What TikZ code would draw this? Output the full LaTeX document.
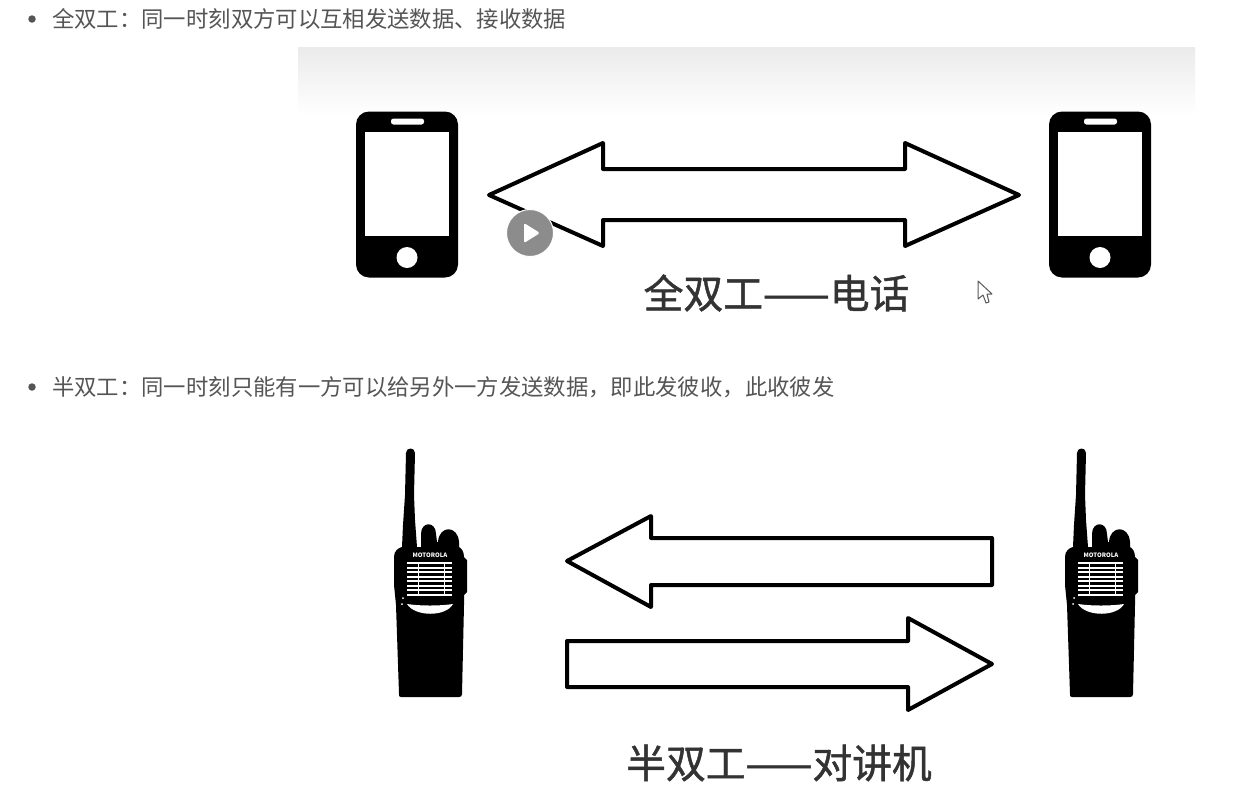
\documentclass[tikz,border=0pt]{standalone}
\usepackage{fontspec}
\setmainfont{Noto Sans CJK SC}
\newfontfamily\capfont[FakeBold=1.2]{Noto Sans CJK SC}
\usetikzlibrary{positioning}
\definecolor{bodytext}{HTML}{555555}
\definecolor{captiontext}{HTML}{333333}
\definecolor{playgray}{HTML}{8C8C8C}
\tikzset{
x=1pt, y=-1pt,
line/.style={font=\fontsize{22.35}{26}\selectfont, text=bodytext, inner sep=0pt, anchor=west}, % the two bullet lines
caption/.style={font=\fontsize{39.8}{46}\capfont, text=captiontext, inner sep=0pt}, % text under the arrows
bullet/.style={circle, fill=bodytext, inner sep=0pt, minimum size=7.5pt},
blockarrow/.style={draw=black, line width=4pt, line join=round, fill=white},
pics/phone/.style={code={
  \fill[black, rounded corners=13pt] (-51,-83) rectangle (51,83);
  \fill[white] (-42,-63) rectangle (42,41);
  \fill[white, rounded corners=2.5pt] (-16,-76) rectangle (17,-70);
  \fill[white] (0,63) circle (10.5);
}},
pics/radio/.style={code={
  % body, knobs and antenna, measured from the antenna foot
  \fill[black] (-4,-92) .. controls (-4,-98) and (5,-98) .. (5,-92)
    -- (4,-50) -- (5,-25) -- (7,2) -- (11,2) -- (11,-11) .. controls (11,-24) and (26,-24) .. (26,-11)
    -- (27,-3) -- (28,-3) .. controls (29,-20) and (48,-20) .. (49,-3) -- (49,2)
    .. controls (51,3) and (54,6) .. (54,12) -- (57,15) -- (57,47) -- (54,50) -- (54,60)
    -- (52,149) .. controls (52,151) and (51,152) .. (49,152)
    -- (-9,152) .. controls (-11,152) and (-11,151) .. (-11,149)
    -- (-14,60) -- (-16,40) -- (-16,12) .. controls (-16,6) and (-12,3) .. (-8,2)
    -- (-7,-20) -- (-5,-50) -- cycle;
  \foreach \y in {18,22.5,27,31.5,36,40.5,45,49.5}
    \fill[white] (-3,\y-1) rectangle (42,\y+1);
  \fill[white] (7.5,17) rectangle (8.5,51);
  \fill[white] (33.5,17) rectangle (34.5,51);
  \fill[white] (-3,59) .. controls (10,61) and (30,61) .. (43,59)
    .. controls (36,72) and (5,72) .. (-3,59) -- cycle;
  \fill[white] (-7,53) circle (1);
  \fill[white] (-8,59) circle (1);
  \node[inner sep=0pt, text=white, font=\fontsize{6}{6}\selectfont\bfseries] at (20,10) {MOTOROLA};
}},
}
\begin{document}
\begin{tikzpicture}
        \useasboundingbox (0,0) rectangle (1243,804);
        \fill[white] (0,0) rectangle (1243,804);

        % top half: telephone
        \shade[top color=black!8, bottom color=white] (298,47) rectangle (1195,115);
        \node[bullet] (dot1) at (32,19) {};
        \node[line] (full) at (52,19) {全双工：同一时刻双方可以互相发送数据、接收数据};
        \pic at (407,194.5) {phone};
        \pic at (1100,194.5) {phone};
        \draw[blockarrow] (489,195) -- (603,143) -- (603,169) -- (905,169) -- (905,143)
          -- (1019,195) -- (905,246) -- (905,220) -- (603,220) -- (603,246) -- cycle;
        \node[caption] (fullcap) at (776.5,293) {全双工——电话};

        % play button and mouse pointer
        \node[circle, fill=playgray, draw=white, line width=1pt, minimum size=47pt, inner sep=0pt] (play) at (530,233) {};
        \fill[white, rounded corners=1.5pt] (524,223) -- (540,233) -- (524,243) -- cycle;
        \draw[black!65, fill=white, line width=1pt, line join=round] (978,281) -- (978,299) -- (983,295)
          -- (986,303) -- (989,302) -- (987,294) -- (992,294) -- cycle;

        % bottom half: walkie-talkie
        \node[bullet] (dot2) at (32,387) {};
        \node[line] (half) at (52,387) {半双工：同一时刻只能有一方可以给另外一方发送数据，即此发彼收，此收彼发};
        \pic at (410,545) {radio};
        \pic at (1081,545) {radio};
        \draw[blockarrow] (567,561) -- (651,516) -- (651,538) -- (992,538) -- (992,585)
          -- (651,585) -- (651,607) -- cycle;
        \draw[blockarrow] (567,641) -- (908,641) -- (908,618) -- (992,664) -- (908,710)
          -- (908,687) -- (567,687) -- cycle;
        \node[caption] (halfcap) at (779,763) {半双工——对讲机};
      \end{tikzpicture}
\end{document}
